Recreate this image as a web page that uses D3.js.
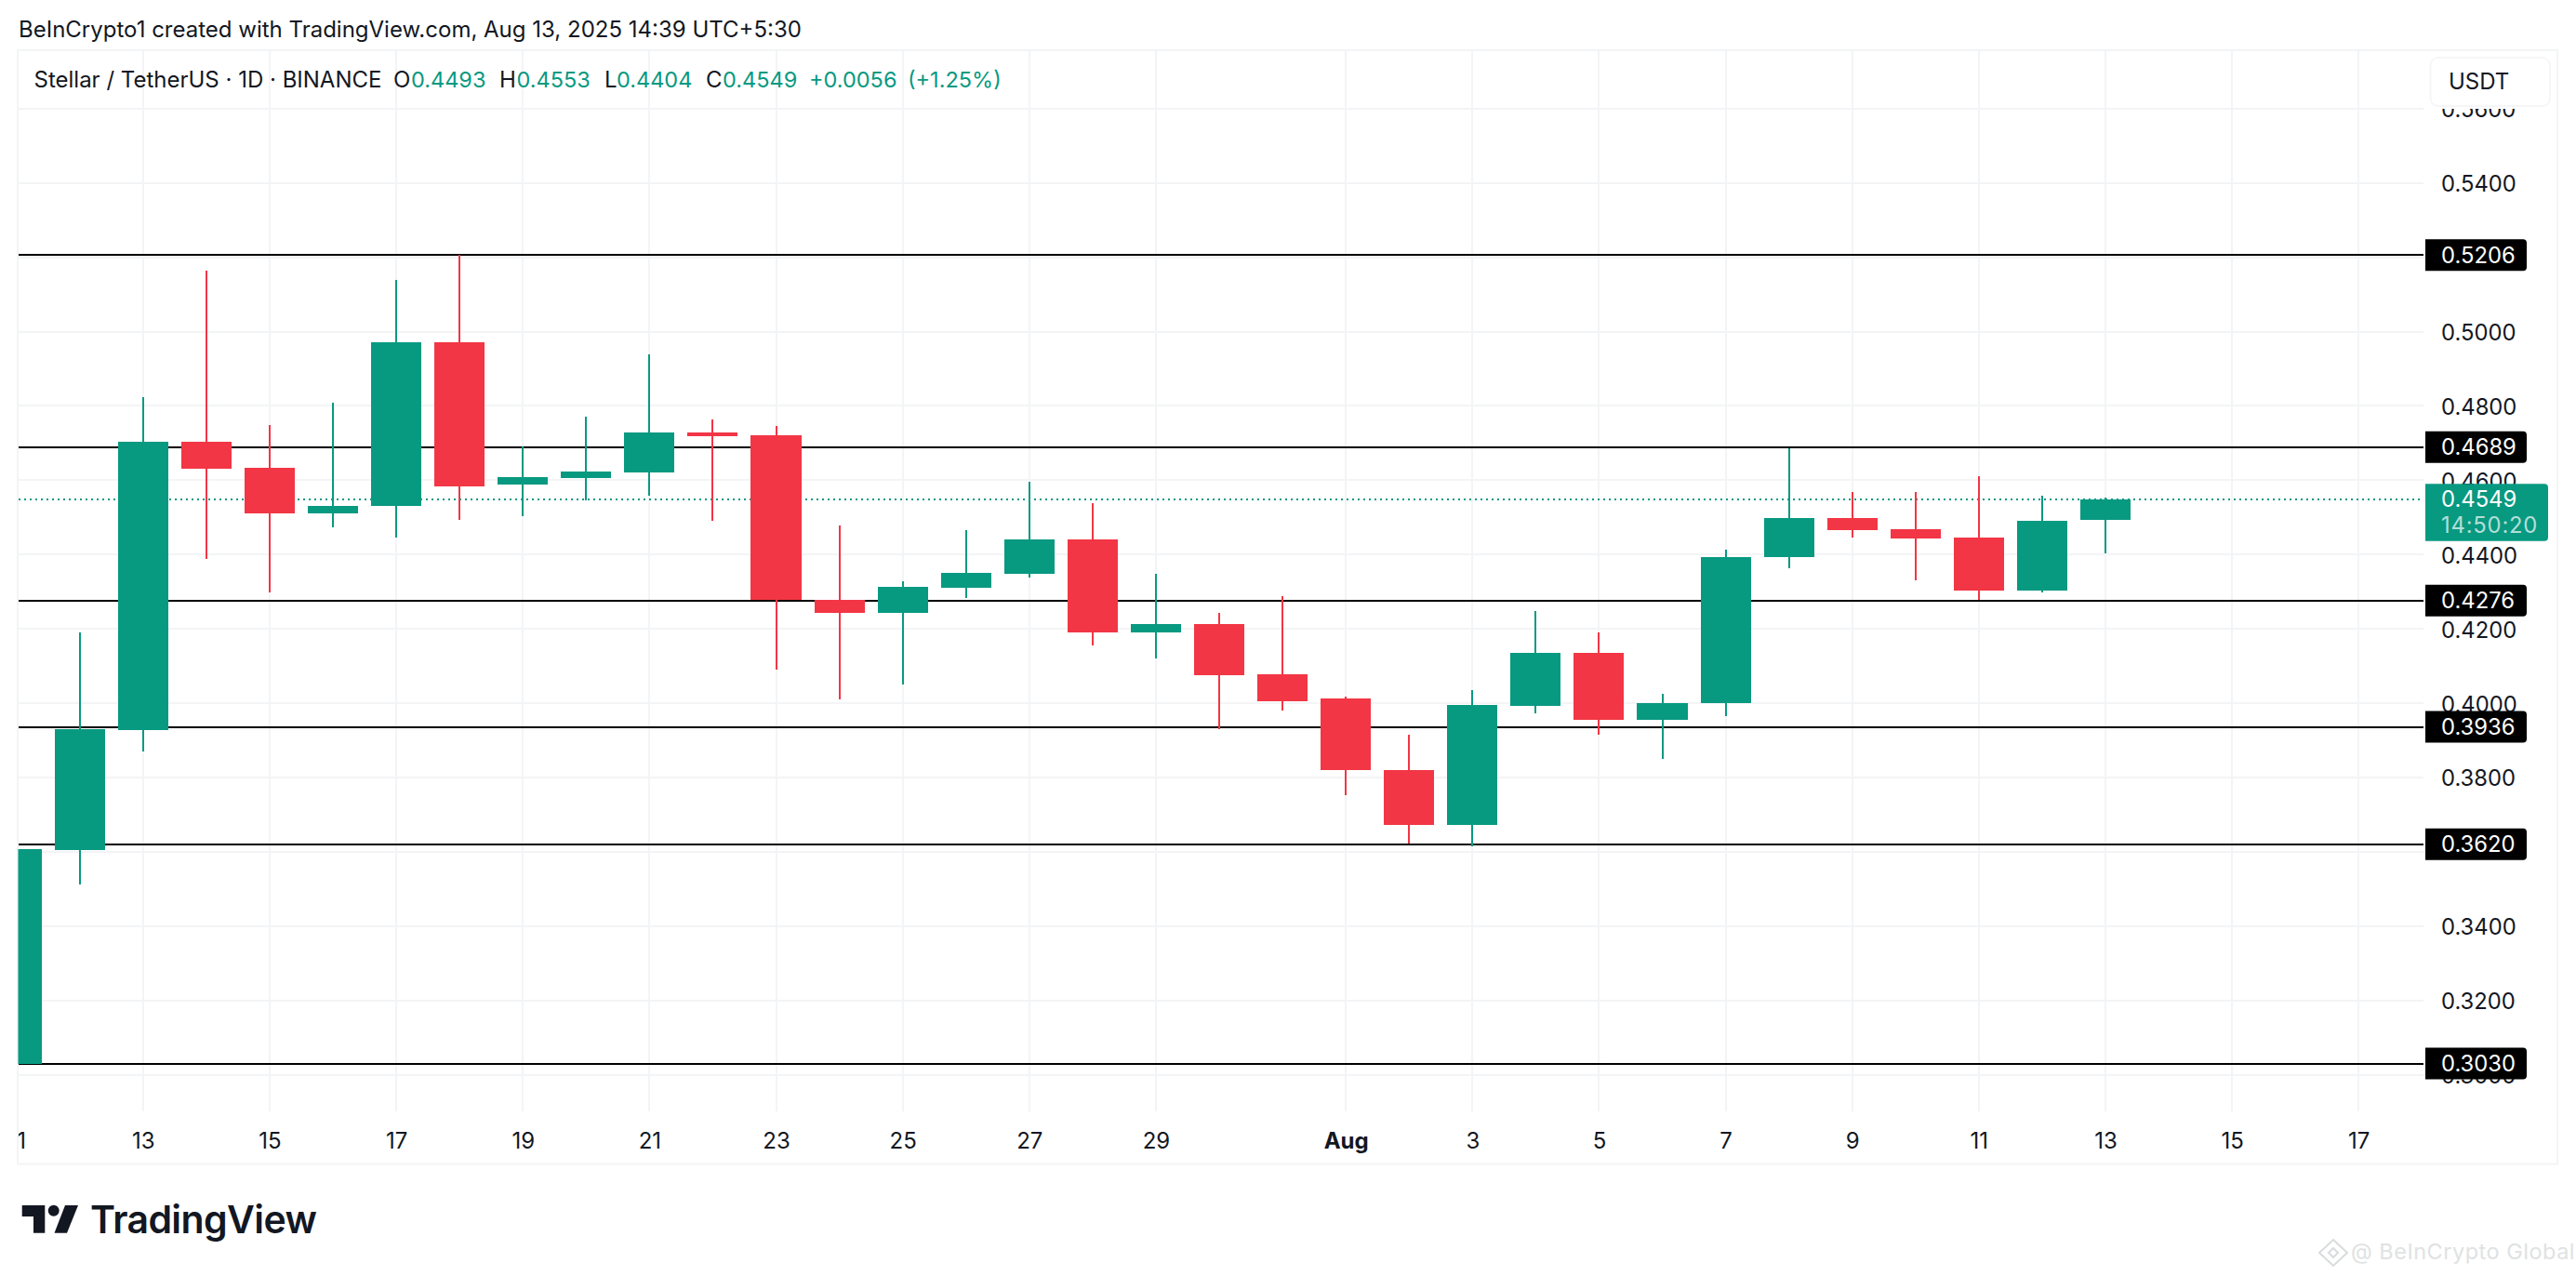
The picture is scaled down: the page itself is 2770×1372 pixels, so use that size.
<!DOCTYPE html>
<html>
<head>
<meta charset="utf-8">
<script src="https://cdn.jsdelivr.net/npm/d3@7"></script>
<style>
  html, body { margin: 0; background: #fff; }
  svg { display: block; }
  text { font-family: Inter, "Noto Sans", sans-serif; }
</style>
</head>
<body>
<svg width="2770" height="1372"></svg>
<script>
// candles, Jul 11 -> Aug 13 2025
const opens = [0.3030, 0.3604, 0.3927, 0.4704, 0.4634, 0.4511, 0.4531, 0.4972, 0.4587, 0.4607, 0.4621, 0.4729, 0.4722, 0.4279, 0.4244, 0.4311, 0.4349, 0.4441, 0.4189, 0.4212, 0.4077, 0.4012, 0.3821, 0.3671, 0.3992, 0.4136, 0.3956, 0.4001, 0.4392, 0.4499, 0.4469, 0.4446, 0.4302, 0.4493];
const highs = [0.3606, 0.4189, 0.4824, 0.5164, 0.4749, 0.4809, 0.5139, 0.5206, 0.4692, 0.4771, 0.4939, 0.4764, 0.4746, 0.4477, 0.4329, 0.4466, 0.4596, 0.4539, 0.4349, 0.4244, 0.4289, 0.4017, 0.3916, 0.4034, 0.4249, 0.4189, 0.4026, 0.4412, 0.4686, 0.4569, 0.4567, 0.4612, 0.4559, 0.4553];
const lows = [0.3030, 0.3512, 0.3871, 0.4388, 0.4299, 0.4474, 0.4446, 0.4494, 0.4502, 0.4545, 0.4559, 0.4491, 0.4089, 0.4009, 0.4049, 0.4284, 0.4339, 0.4156, 0.4119, 0.3930, 0.3979, 0.3752, 0.3622, 0.3615, 0.3972, 0.3914, 0.3851, 0.3964, 0.4364, 0.4446, 0.4331, 0.4277, 0.4299, 0.4404];
const closes = [0.3606, 0.3929, 0.4704, 0.4632, 0.4511, 0.4531, 0.4972, 0.4584, 0.4609, 0.4624, 0.4729, 0.4719, 0.4277, 0.4244, 0.4314, 0.4351, 0.4441, 0.4189, 0.4212, 0.4074, 0.4006, 0.3821, 0.3671, 0.3994, 0.4136, 0.3956, 0.4001, 0.4394, 0.4499, 0.4466, 0.4444, 0.4302, 0.4491, 0.4549];

const levels = [0.5206, 0.4689, 0.4276, 0.3936, 0.3620, 0.3030];
const priceTicks = [0.56, 0.54, 0.52, 0.50, 0.48, 0.46, 0.44, 0.42, 0.40, 0.38, 0.36, 0.34, 0.32, 0.30];
const hiddenPriceLabels = [0.52, 0.36];
const dayTicks = ['2025-07-11', '2025-07-13', '2025-07-15', '2025-07-17', '2025-07-19', '2025-07-21', '2025-07-23', '2025-07-25', '2025-07-27', '2025-07-29', '2025-08-01', '2025-08-03', '2025-08-05', '2025-08-07', '2025-08-09', '2025-08-11', '2025-08-13', '2025-08-15', '2025-08-17'];
const lastPrice = 0.4549;
const countdown = '14:50:20';

const green = '#089981';
const red = '#f23645';
const ink = '#131722';
const gridColor = '#f3f4f6';

const firstDay = new Date(Date.UTC(2025, 6, 11));
const dates = opens.map((d, i) => d3.utcDay.offset(firstDay, i));
const candles = dates.map((date, i) => ({ date, open: opens[i], high: highs[i], low: lows[i], close: closes[i] }));
const tickDates = dayTicks.map(d => new Date(d + 'T00:00:00Z'));

const plotLeft = 19.5, plotRight = 2606, plotTop = 54, plotBottom = 1195;

const x = d3.scaleUtc()
  .domain([new Date(Date.UTC(2025, 6, 13)), new Date(Date.UTC(2025, 7, 13))])
  .range([153.8, 2264]);
const y = d3.scaleLinear()
  .domain([0.30, 0.56])
  .range([1155.5, 116.8]);

const svg = d3.select('svg');
const defs = svg.append('defs');
defs.append('clipPath').attr('id', 'plot')
  .append('rect').attr('x', plotLeft).attr('y', plotTop).attr('width', plotRight - plotLeft).attr('height', plotBottom - plotTop);
defs.append('clipPath').attr('id', 'price-axis')
  .append('rect').attr('x', plotRight).attr('y', 117).attr('width', 140).attr('height', plotBottom - 117);
defs.append('clipPath').attr('id', 'time-axis')
  .append('rect').attr('x', 20).attr('y', plotBottom).attr('width', plotRight).attr('height', 50);

// credit line
svg.append('text')
  .attr('x', 20).attr('y', 40)
  .attr('font-size', 24).attr('fill', ink)
  .text('BeInCrypto1 created with TradingView.com, Aug 13, 2025 14:39 UTC+5:30');

// outer frame + grid
svg.append('rect')
  .attr('x', 19).attr('y', 54).attr('width', 2731).attr('height', 1197.5)
  .attr('fill', 'none').attr('stroke', gridColor).attr('stroke-width', 2);

const plot = svg.append('g').attr('clip-path', 'url(#plot)').attr('shape-rendering', 'crispEdges');

plot.append('g').selectAll('line')
  .data(tickDates)
  .join('line')
  .attr('x1', d => x(d)).attr('x2', d => x(d))
  .attr('y1', plotTop).attr('y2', plotBottom)
  .attr('stroke', gridColor).attr('stroke-width', 2);

plot.append('g').selectAll('line')
  .data(priceTicks)
  .join('line')
  .attr('x1', plotLeft).attr('x2', plotRight)
  .attr('y1', d => y(d)).attr('y2', d => y(d))
  .attr('stroke', gridColor).attr('stroke-width', 2);

// drawn levels
plot.append('g').selectAll('line')
  .data(levels)
  .join('line')
  .attr('x1', plotLeft).attr('x2', plotRight)
  .attr('y1', d => y(d)).attr('y2', d => y(d))
  .attr('stroke', '#000').attr('stroke-width', 2);

// last price
plot.append('line')
  .attr('x1', plotLeft).attr('x2', plotRight)
  .attr('y1', y(lastPrice)).attr('y2', y(lastPrice))
  .attr('stroke', green).attr('stroke-width', 2).attr('stroke-dasharray', '2 4');

const colorOf = d => d.close >= d.open ? green : red;

plot.append('g').selectAll('line')
  .data(candles)
  .join('line')
  .attr('x1', d => x(d.date)).attr('x2', d => x(d.date))
  .attr('y1', d => y(d.high)).attr('y2', d => y(d.low))
  .attr('stroke', colorOf).attr('stroke-width', 2);

const bodyWidth = x(dates[1]) - x(dates[0]) - 14;
plot.append('g').selectAll('rect')
  .data(candles)
  .join('rect')
  .attr('x', d => x(d.date) - bodyWidth / 2)
  .attr('width', bodyWidth)
  .attr('y', d => y(Math.max(d.open, d.close)))
  .attr('height', d => Math.abs(y(d.open) - y(d.close)))
  .attr('fill', colorOf);

// legend row
const legend = [
  ['Stellar / TetherUS · 1D · BINANCE', 36.5, ink, 24],
  ['O', 423, ink, 24], ['0.4493', 442, green, 23.5],
  ['H', 537, ink, 24], ['0.4553', 555.5, green, 23.5],
  ['L', 650, ink, 24], ['0.4404', 663, green, 23.5],
  ['C', 759, ink, 24], ['0.4549', 777, green, 23.5],
  ['+0.0056', 870, green, 23.5], ['(+1.25%)', 976, green, 23.5]
];
svg.append('g').selectAll('text')
  .data(legend)
  .join('text')
  .attr('x', d => d[1]).attr('y', 94)
  .attr('font-size', d => d[3])
  .attr('fill', d => d[2])
  .text(d => d[0]);

// price axis
const priceAxis = d3.axisRight(y)
  .tickValues(priceTicks.filter(d => !hiddenPriceLabels.includes(d)))
  .tickSize(0).tickPadding(0)
  .tickFormat(d3.format('.4f'));
svg.append('g')
  .attr('clip-path', 'url(#price-axis)')
  .append('g')
  .attr('transform', 'translate(2625,0)')
  .call(priceAxis)
  .call(g => g.select('.domain').remove())
  .call(g => g.selectAll('text')
    .attr('font-family', 'Inter').attr('font-size', 23.8).attr('fill', ink).attr('dy', '0.38em'));

// time axis
const timeAxis = d3.axisBottom(x)
  .tickValues(tickDates)
  .tickSize(0).tickPadding(0)
  .tickFormat(d => d.getUTCDate() === 1 ? 'Aug' : d3.utcFormat('%-d')(d));
svg.append('g')
  .attr('clip-path', 'url(#time-axis)')
  .append('g')
  .attr('transform', 'translate(0,1218)')
  .call(timeAxis)
  .call(g => g.select('.domain').remove())
  .call(g => g.selectAll('text')
    .attr('font-family', 'Inter').attr('font-size', 24).attr('fill', ink)
    .attr('font-weight', d => d.getUTCDate() === 1 ? 700 : 400));

// level tags
const tags = svg.append('g').selectAll('g')
  .data(levels)
  .join('g')
  .attr('transform', d => `translate(2608,${y(d)})`);
tags.append('path')
  .attr('d', 'M0,-17H105a4,4 0 0 1 4,4V13a4,4 0 0 1 -4,4H0Z')
  .attr('fill', '#000');
tags.append('text')
  .attr('x', 17).attr('dy', '0.36em')
  .attr('font-size', 23.8).attr('fill', '#fff')
  .text(d => d3.format('.4f')(d));

// last price tag
const lastTag = svg.append('g').attr('transform', `translate(2608,${y(lastPrice)})`);
lastTag.append('path')
  .attr('d', 'M0,-16.5H128a4,4 0 0 1 4,4V41a4,4 0 0 1 -4,4H0Z')
  .attr('fill', green);
lastTag.append('text')
  .attr('x', 17).attr('dy', '0.36em')
  .attr('font-size', 23.8).attr('fill', '#fff')
  .text(d3.format('.4f')(lastPrice));
lastTag.append('text')
  .attr('x', 17).attr('y', 28).attr('dy', '0.36em')
  .attr('font-size', 23.8).attr('fill', '#fff').attr('fill-opacity', 0.7).attr('letter-spacing', 0.8)
  .text(countdown);

// currency button
svg.append('rect')
  .attr('x', 2613.5).attr('y', 62).attr('width', 128.5).attr('height', 52).attr('rx', 8)
  .attr('fill', '#fff').attr('stroke', gridColor).attr('stroke-width', 1.5);
svg.append('text')
  .attr('x', 2633).attr('y', 96)
  .attr('font-size', 24).attr('fill', ink)
  .text('USDT');

// TradingView logo
const logo = svg.append('g').attr('fill', ink);
logo.append('path').attr('d', 'M23.7,1296H48.3V1325.7H36V1308H23.7Z');
logo.append('circle').attr('cx', 57.7).attr('cy', 1301.7).attr('r', 6);
logo.append('path').attr('d', 'M70,1296H84L72,1325.7H58.5Z');
logo.append('text')
  .attr('x', 97).attr('y', 1326)
  .attr('font-size', 41).attr('font-weight', 600).attr('letter-spacing', -0.6)
  .text('TradingView');

// watermark
const mark = svg.append('g').attr('fill', 'none').attr('stroke', '#d8dcdc').attr('stroke-width', 2);
mark.append('path').attr('d', 'M2509,1333L2524,1347L2509,1361L2494,1347Z');
mark.append('path').attr('d', 'M2509,1342L2514,1347L2509,1352L2504,1347Z');
svg.append('text')
  .attr('x', 2528).attr('y', 1353.5)
  .attr('font-size', 23.5).attr('fill', '#e0e2e2').attr('letter-spacing', 0.5)
  .text('@ BeInCrypto Global');
</script>
</body>
</html>
